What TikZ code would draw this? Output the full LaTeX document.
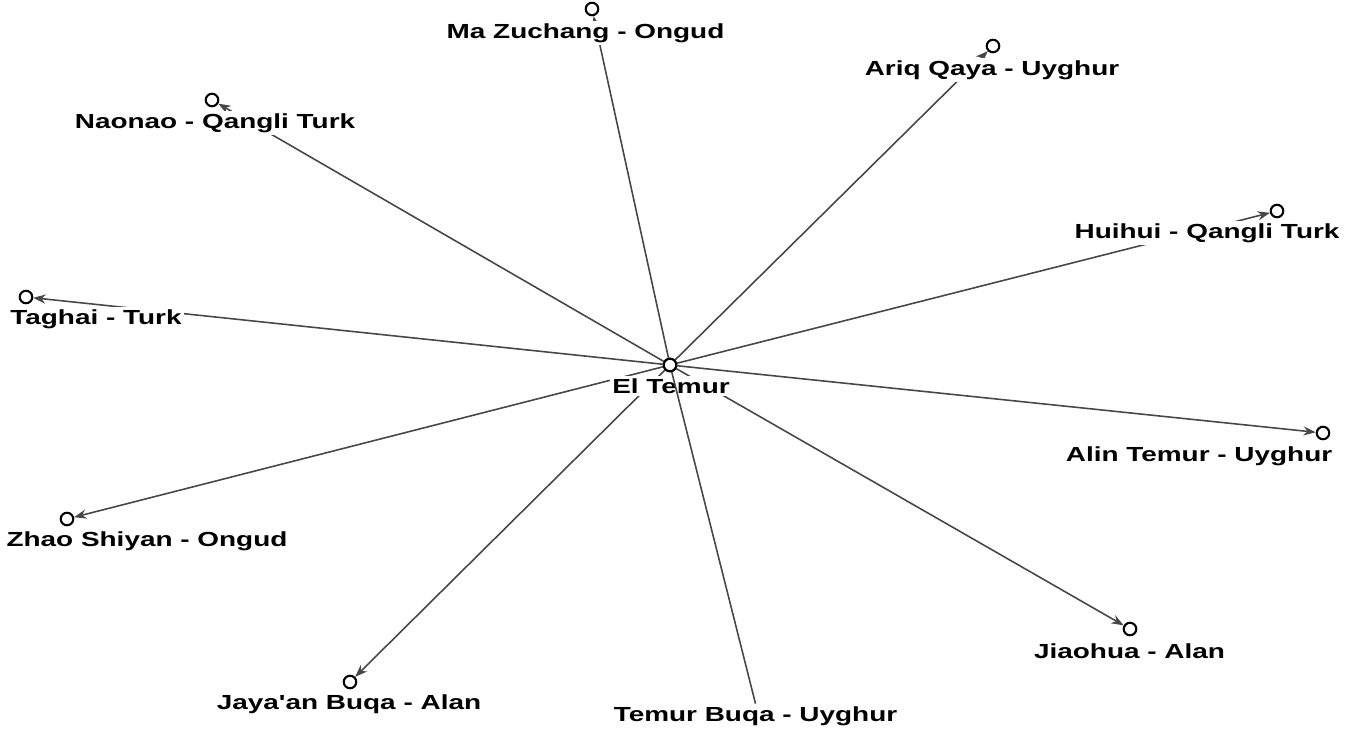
\documentclass[tikz,border=0pt]{standalone}
\usepackage{fontspec}
\newfontfamily\netfont[FakeStretch=1.37]{Liberation Sans}
\usetikzlibrary{arrows.meta}

\begin{document}
\begin{tikzpicture}[
	actor/.style={circle,draw,line width=0.6pt,inner sep=0pt,minimum size=0.125cm,fill=white},
	lbl/.style={font=\netfont\bfseries\fontsize{5.8}{6}\selectfont,fill=white,inner sep=0.6pt},
	tie/.style={draw=black!72,line width=0.45pt,-{Stealth[length=3.5pt,width=2.6pt]}},
	]
	\useasboundingbox (0,0) rectangle (13.57,7.32);
	
	% ego
	\node[actor] (ET) at (6.70,3.67) {};
	
	% alters
	\node[actor] (MZ) at (5.92,7.23) {};
	\node[actor] (AQ) at (9.93,6.86) {};
	\node[actor] (NN) at (2.12,6.32) {};
	\node[actor] (HH) at (12.77,5.21) {};
	\node[actor] (TG) at (0.26,4.35) {};
	\node[actor] (AT) at (13.23,2.99) {};
	\node[actor] (ZS) at (0.67,2.13) {};
	\node[actor] (JB) at (3.50,0.50) {};
	\node[actor] (JH) at (11.30,1.03) {};
	
	% ties
	\draw[tie] (ET) -- (MZ);
	\draw[tie] (ET) -- (AQ);
	\draw[tie] (ET) -- (NN);
	\draw[tie] (ET) -- (HH);
	\draw[tie] (ET) -- (TG);
	\draw[tie] (ET) -- (AT);
	\draw[tie] (ET) -- (ZS);
	\draw[tie] (ET) -- (JB);
	\draw[tie] (ET) -- (JH);
	
	% labels
	\node[lbl] (MZl) at (5.855,6.99) {Ma Zuchang - Ongud};
	\node[lbl] (AQl) at (9.92,6.62) {Ariq Qaya - Uyghur};
	\node[lbl] (NNl) at (2.15,6.09) {Naonao - Qangli Turk};
	\node[lbl] (HHl) at (12.07,4.99) {Huihui - Qangli Turk};
	\node[lbl] (TGl) at (0.96,4.13) {Taghai - Turk};
	\node[lbl] (ETl) at (6.71,3.46) {El Temur};
	\node[lbl] (ATl) at (11.99,2.76) {Alin Temur - Uyghur};
	\node[lbl] (ZSl) at (1.47,1.91) {Zhao Shiyan - Ongud};
	\node[lbl] (JBl) at (3.49,0.28) {Jaya'an Buqa - Alan};
	\node[lbl] (TBl) at (7.555,0.16) {Temur Buqa - Uyghur};
	\node[lbl] (JHl) at (11.295,0.81) {Jiaohua - Alan};
	
	\draw[draw=black!72,line width=0.45pt] (ET) -- (TBl.north);
	\node[actor] at (ET) {};
\end{tikzpicture}
\end{document}
